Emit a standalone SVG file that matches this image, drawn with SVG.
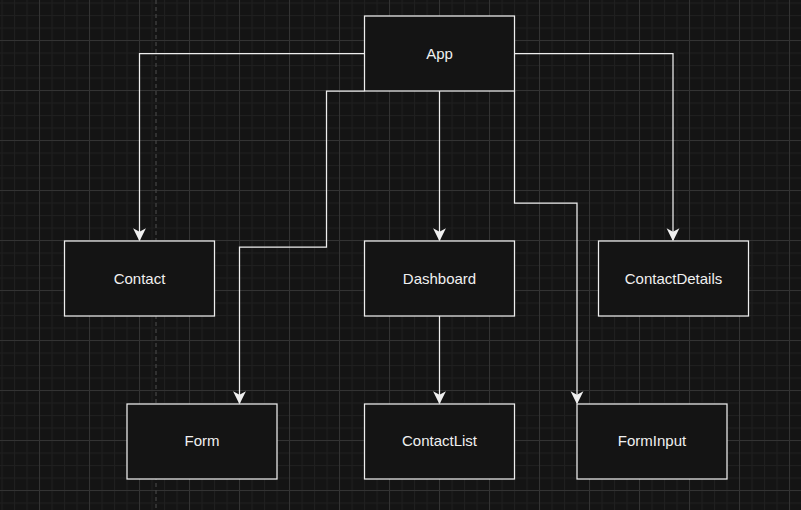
<svg xmlns="http://www.w3.org/2000/svg" width="801" height="510" viewBox="0 0 801 510">
<defs>
<pattern id="minor" patternUnits="userSpaceOnUse" x="1.5" y="2.5" width="12.5" height="12.5">
<rect x="0" y="0" width="1" height="12.5" fill="#1f1f1f"/>
<rect x="0" y="0" width="12.5" height="1" fill="#1f1f1f"/>
</pattern>
<pattern id="major" patternUnits="userSpaceOnUse" x="39" y="40" width="50" height="50">
<rect x="0" y="0" width="1" height="50" fill="#333333"/>
<rect x="0" y="0" width="50" height="1" fill="#333333"/>
</pattern>
<marker id="arr" markerUnits="userSpaceOnUse" markerWidth="14" markerHeight="14" refX="10" refY="5.5" orient="auto" viewBox="0 0 12 11">
<path d="M0,0 L11,5.5 L0,11 L3,5.5 Z" fill="#f0f0f0"/>
</marker>
<style>
.node rect{fill:#141414;stroke:#eeeeee;stroke-width:1.25}
.node text{font-family:"Liberation Sans",Arial,sans-serif;font-size:15px;fill:#f0f0f0;text-anchor:middle}
.edge{fill:none;stroke:#eeeeee;stroke-width:1.25;marker-end:url(#arr)}
</style>
</defs>
<rect width="801" height="510" fill="#141414"/>
<rect width="801" height="510" fill="url(#minor)"/>
<rect width="801" height="510" fill="url(#major)"/>
<line x1="156" y1="0" x2="156" y2="510" stroke="#444444" stroke-width="1.25" stroke-dasharray="4 3"/>
<g id="connectors">
<path class="edge" d="M364.5,53.5 H139.5 V240"/>
<path class="edge" d="M514.5,53.5 H673 V240"/>
<path class="edge" d="M439.5,91 V240"/>
<path class="edge" d="M364.5,91 H326.5 V247 H239.5 V403"/>
<path class="edge" d="M514.5,91 V203 H577 V403"/>
<path class="edge" d="M439.5,316 V403"/>
</g>
<g id="node-app" class="node"><rect x="364.5" y="16" width="150" height="75"/><text x="439.5" y="59">App</text></g>
<g id="node-contact" class="node"><rect x="64.5" y="241" width="150" height="75"/><text x="139.5" y="284">Contact</text></g>
<g id="node-dashboard" class="node"><rect x="364.5" y="241" width="150" height="75"/><text x="439.5" y="284">Dashboard</text></g>
<g id="node-contactdetails" class="node"><rect x="598.5" y="241" width="150" height="75"/><text x="673.5" y="284">ContactDetails</text></g>
<g id="node-form" class="node"><rect x="127" y="404" width="150" height="75"/><text x="202" y="446">Form</text></g>
<g id="node-contactlist" class="node"><rect x="364.5" y="404" width="150" height="75"/><text x="439.5" y="446">ContactList</text></g>
<g id="node-forminput" class="node"><rect x="577" y="404" width="150" height="75"/><text x="652" y="446">FormInput</text></g>
</svg>
